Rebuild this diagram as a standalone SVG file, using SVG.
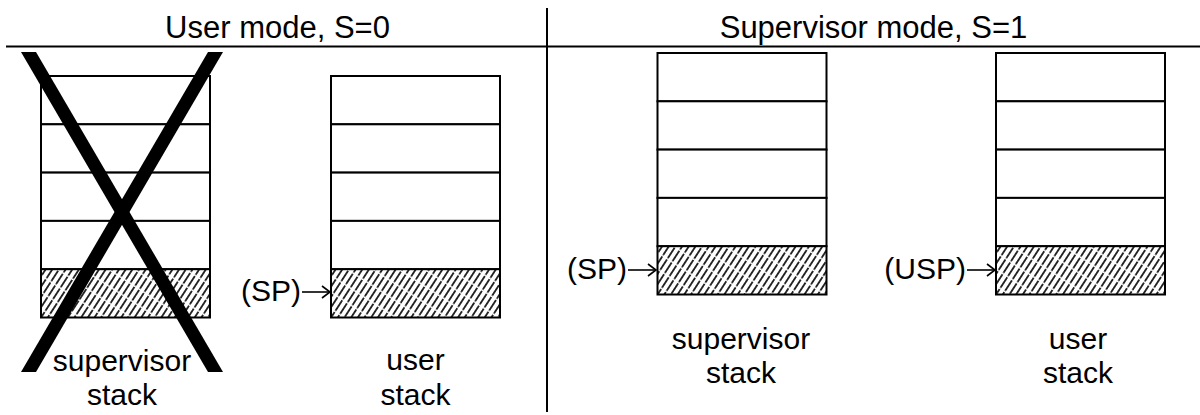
<svg xmlns="http://www.w3.org/2000/svg" xmlns:xlink="http://www.w3.org/1999/xlink" width="1200" height="415" viewBox="0 0 1200 415">
  <style>
    .cell { fill: #ffffff; stroke: #000000; stroke-width: 2; }
    .hatch { fill: url(#hatch); stroke: #000000; stroke-width: 2; }
    .rule { stroke: #000000; stroke-width: 2; fill: none; }
    .t { font-family: "Liberation Sans", Arial, "DejaVu Sans", sans-serif; font-size: 30px; fill: #000000; }
    .title { font-size: 31px; text-anchor: middle; }
    .lbl { text-anchor: middle; }
    .ptr { text-anchor: end; }
    .cross { fill: #000000; }
    .arrow { stroke: #000000; stroke-width: 1.6; fill: none; marker-end: url(#head); }
  </style>
  <defs>
    <marker id="head" markerUnits="userSpaceOnUse" markerWidth="12" markerHeight="14" refX="10" refY="7" orient="auto">
      <path d="M2,1 L10,7 L2,13" fill="none" stroke="#000000" stroke-width="1.6"/>
    </marker>
    <pattern id="hatch" patternUnits="userSpaceOnUse" width="5.6" height="14" patternTransform="rotate(33)">
      <rect width="5.6" height="14" fill="#ffffff"/>
      <line x1="2.8" y1="0" x2="2.8" y2="14" stroke="#000000" stroke-width="1.6" stroke-dasharray="12.5 1.5"/>
    </pattern>
    <g id="stack">
      <rect class="cell" x="0" y="0" width="169" height="48.3"/>
      <rect class="cell" x="0" y="48.3" width="169" height="48.3"/>
      <rect class="cell" x="0" y="96.6" width="169" height="48.3"/>
      <rect class="cell" x="0" y="144.9" width="169" height="48.3"/>
      <rect class="hatch" x="0" y="193.2" width="169" height="48.3"/>
    </g>
  </defs>

  <rect width="1200" height="415" fill="#ffffff"/>

  <g id="frame">
    <line class="rule" x1="6" y1="46.5" x2="1200" y2="46.5"/>
    <line class="rule" x1="547" y1="8" x2="547" y2="412"/>
  </g>

  <g id="titles">
    <text class="t title" x="277.5" y="38">User mode, S=0</text>
    <text class="t title" x="873.5" y="38">Supervisor mode, S=1</text>
  </g>

  <g id="user-mode-supervisor-stack">
    <use xlink:href="#stack" href="#stack" x="41" y="76"/>
    <polygon class="cross" points="21,52 36,52 223,372 208,372"/>
    <polygon class="cross" points="208,52 223,52 36,372 21,372"/>
    <text class="t lbl" x="122" y="371">supervisor</text>
    <text class="t lbl" x="122" y="405">stack</text>
  </g>

  <g id="user-mode-user-stack">
    <use xlink:href="#stack" href="#stack" x="331" y="76"/>
    <text class="t lbl" x="415.5" y="370">user</text>
    <text class="t lbl" x="415.5" y="405">stack</text>
    <text class="t ptr" x="301" y="301">(SP)</text>
  </g>

  <g id="supervisor-mode-supervisor-stack">
    <use xlink:href="#stack" href="#stack" x="657.5" y="53"/>
    <text class="t lbl" x="741" y="349">supervisor</text>
    <text class="t lbl" x="741" y="383">stack</text>
    <text class="t ptr" x="627" y="279">(SP)</text>
  </g>

  <g id="supervisor-mode-user-stack">
    <use xlink:href="#stack" href="#stack" x="996" y="53"/>
    <text class="t lbl" x="1078" y="349">user</text>
    <text class="t lbl" x="1078" y="383">stack</text>
    <text class="t ptr" x="966" y="279">(USP)</text>
  </g>

  <g id="connectors">
    <line class="arrow" x1="302" y1="292" x2="330" y2="292"/>
    <line class="arrow" x1="628" y1="270" x2="656" y2="270"/>
    <line class="arrow" x1="967" y1="270" x2="995" y2="270"/>
  </g>
</svg>
